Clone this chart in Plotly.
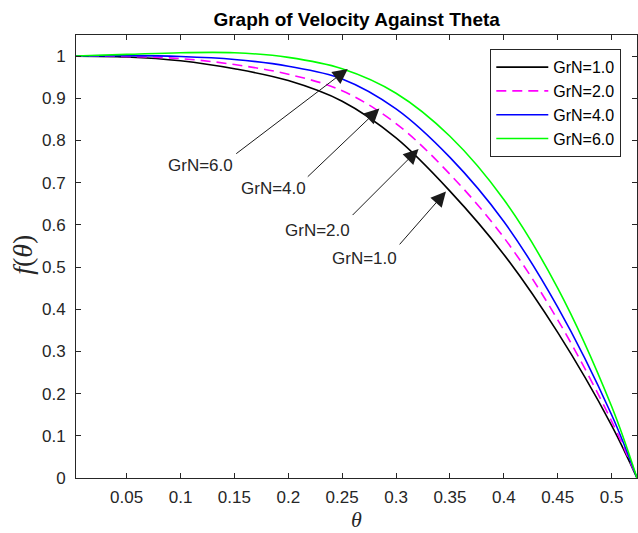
import plotly.graph_objects as go

# ---- data ----
theta = [0.0, 0.05, 0.10, 0.15, 0.20, 0.25, 0.30, 0.35, 0.40, 0.45, 0.50, 0.5236]
f_grn1 = [1.000, 0.998, 0.989, 0.970, 0.942, 0.893, 0.806, 0.680, 0.530, 0.345, 0.125, 0.0]
f_grn2 = [1.000, 0.999, 0.994, 0.980, 0.957, 0.918, 0.840, 0.720, 0.570, 0.375, 0.135, 0.0]
f_grn4 = [1.000, 1.001, 0.999, 0.992, 0.976, 0.946, 0.875, 0.760, 0.608, 0.405, 0.150, 0.0]
f_grn6 = [1.000, 1.004, 1.008, 1.008, 0.997, 0.970, 0.912, 0.810, 0.660, 0.450, 0.170, 0.0]

series_names = ["GrN=1.0", "GrN=2.0", "GrN=4.0", "GrN=6.0"]
series_vals = [f_grn1, f_grn2, f_grn4, f_grn6]
series_colors = ["#000000", "#FF00FF", "#0000FF", "#00FF00"]
series_dash = ["solid", "10px,6px", "solid", "solid"]

x_ticks = [0.05, 0.1, 0.15, 0.2, 0.25, 0.3, 0.35, 0.4, 0.45, 0.5]
x_tick_text = ["0.05", "0.1", "0.15", "0.2", "0.25", "0.3", "0.35", "0.4", "0.45", "0.5"]
y_ticks = [0, 0.1, 0.2, 0.3, 0.4, 0.5, 0.6, 0.7, 0.8, 0.9, 1.0]
y_tick_text = ["0", "0.1", "0.2", "0.3", "0.4", "0.5", "0.6", "0.7", "0.8", "0.9", "1"]

# arrow annotations: label, text position, arrow tail, arrow tip (data units)
arrow_labels = ["GrN=6.0", "GrN=4.0", "GrN=2.0", "GrN=1.0"]
arrow_text_xy = [(0.1183, 0.741), (0.1861, 0.6854), (0.2271, 0.5869), (0.2706, 0.5193)]
arrow_tail_xy = [(0.1503, 0.766), (0.2167, 0.7108), (0.2583, 0.6197), (0.3021, 0.5501)]
arrow_tip_xy = [(0.2552, 0.9696), (0.2845, 0.8758), (0.3209, 0.7797), (0.3463, 0.679)]

AX = "#262626"
FONT = "Liberation Sans, Arial, Helvetica, sans-serif"

fig = go.Figure()
for name, vals, col, dash in zip(series_names, series_vals, series_colors, series_dash):
    fig.add_trace(go.Scatter(
        x=theta, y=vals, mode="lines", name=name,
        line=dict(color=col, width=1.6, dash=dash, shape="spline", smoothing=1.0),
    ))

for lab, (tx, ty), (ax_, ay_), (px, py) in zip(arrow_labels, arrow_text_xy, arrow_tail_xy, arrow_tip_xy):
    fig.add_annotation(
        x=px, y=py, ax=ax_, ay=ay_, xref="x", yref="y", axref="x", ayref="y",
        text="", showarrow=True, arrowhead=2, arrowsize=3, arrowwidth=1,
        arrowcolor="#1a1a1a", standoff=0, startstandoff=0,
    )
    fig.add_annotation(
        x=tx, y=ty, xref="x", yref="y", text=lab, showarrow=False,
        font=dict(family=FONT, size=17, color="#262626"),
        xanchor="center", yanchor="middle",
    )

# axis labels
fig.add_annotation(
    x=0.5, y=-0.0948, xref="paper", yref="paper", text="<i>θ</i>", showarrow=False,
    font=dict(family="Liberation Serif, Times New Roman, serif", size=22, color="#262626"),
    xanchor="center", yanchor="middle",
)
fig.add_annotation(
    x=-0.0968, y=0.503, xref="paper", yref="paper", text="<i>f</i>(<i>θ</i>)", showarrow=False,
    textangle=-90,
    font=dict(family="Liberation Serif, Times New Roman, serif", size=28, color="#262626"),
    xanchor="center", yanchor="middle",
)

axis_common = dict(
    showgrid=False, zeroline=False, showline=True, linecolor=AX, linewidth=1,
    mirror="ticks", ticks="inside", ticklen=5, tickwidth=1, tickcolor=AX,
    tickfont=dict(family=FONT, size=17, color=AX),
)
fig.update_xaxes(range=[0.003, 0.5236], tickvals=x_ticks, ticktext=x_tick_text,
                 ticklabelstandoff=4, **axis_common)
fig.update_yaxes(range=[0, 1.05], tickvals=y_ticks, ticktext=y_tick_text,
                 ticklabelstandoff=6, **axis_common)

fig.update_layout(
    width=638, height=533,
    margin=dict(l=76, r=1, t=35, b=55),
    paper_bgcolor="white", plot_bgcolor="white",
    title=dict(text="<b>Graph of Velocity Against Theta</b>", x=0.559, xanchor="center",
               y=0.964, yanchor="middle",
               font=dict(family=FONT, size=19, color="#000000")),
    legend=dict(
        x=0.972, y=0.968, xanchor="right", yanchor="top",
        bgcolor="white", bordercolor=AX, borderwidth=1,
        font=dict(family=FONT, size=16, color="#000000"),
        tracegroupgap=0, itemwidth=52,
    ),
    showlegend=True,
)

fig.write_html("out.html")
